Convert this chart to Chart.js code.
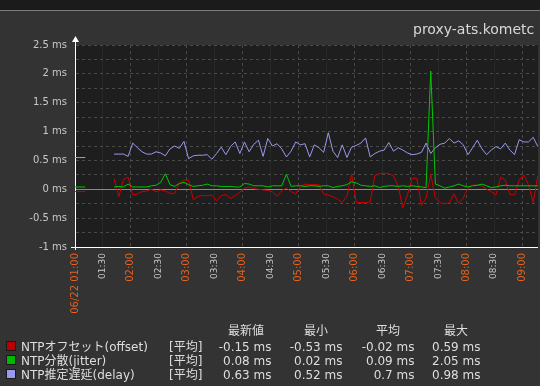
<!DOCTYPE html>
<html><head><meta charset="utf-8">
<script src="https://cdn.jsdelivr.net/npm/chart.js@4.4.0/dist/chart.umd.min.js"></script>
<style>
html,body{margin:0;padding:0;background:#333333;width:540px;height:386px;overflow:hidden;}
#topband{position:absolute;left:0;top:0;width:540px;height:10px;background:#1b1b1b;border-bottom:1px solid #7c7c7c;}
#wrap{position:absolute;left:0;top:0;width:540px;height:386px;}
.t{position:absolute;font-family:"DejaVu Sans","Noto Sans CJK JP",sans-serif;font-size:12px;line-height:14px;color:#dedede;white-space:nowrap;}
.r{text-align:right;width:80px;}
.c{text-align:center;width:60px;}
.sq{position:absolute;left:6px;width:8px;height:8px;border:1px solid #1a1a1a;}
#title{position:absolute;left:413px;top:22px;font-family:"DejaVu Sans",sans-serif;font-size:14px;line-height:14px;color:#d8d8d8;white-space:nowrap;}
</style>
</head><body>
<div id="topband"></div>
<div id="wrap"><canvas id="c" width="540" height="386"></canvas></div>
<div id="title">proxy-ats.kometc</div>
<div id="legend"></div>
<script>
// ---- data (minutes after 06/22 01:00) ----
const timeMinutes = [0,5,11,26,
 42,47,52,57,62,67,72,77,82,87,
 92,97,102,107,112,117,122,127,132,137,
 142,147,152,157,162,167,172,177,182,187,
 192,197,202,207,212,217,222,227,232,237,
 242,247,252,257,262,267,272,277,282,287,
 292,297,302,307,312,317,322,327,332,337,
 342,347,352,357,362,367,372,377,382,387,
 392,397,402,407,412,417,422,427,432,437,
 442,447,452,457,462,467,472,477,482,487,
 492,497];
const offsetMs = [-0.04,-0.04,-0.04,null,
 0.18,-0.13,0.17,0.21,-0.10,-0.08,-0.04,-0.03,0.00,-0.04,
 -0.01,-0.03,-0.07,-0.07,0.10,0.16,0.16,-0.18,-0.12,-0.11,
 -0.11,-0.10,-0.20,-0.11,-0.09,-0.16,-0.11,-0.05,0.02,0.04,
 0.01,0.00,-0.01,-0.02,-0.04,-0.12,-0.02,0.02,-0.04,-0.08,
 0.05,0.09,0.08,0.08,0.08,-0.08,-0.10,-0.13,-0.17,-0.23,
 -0.12,0.27,-0.23,-0.23,-0.23,-0.22,0.24,0.27,0.28,0.27,
 0.23,0.06,-0.32,-0.10,0.19,0.19,-0.28,-0.15,0.26,-0.15,
 -0.23,-0.25,-0.23,-0.08,-0.25,-0.15,0.02,0.07,0.07,0.06,
 0.00,-0.04,-0.10,0.21,0.16,-0.09,-0.10,0.16,0.25,0.08,
 -0.23,0.24];
const jitterMs = [0.04,0.04,0.04,null,
 0.04,0.05,0.04,0.09,0.04,0.04,0.04,0.04,0.06,0.07,
 0.12,0.27,0.08,0.05,0.10,0.12,0.08,0.05,0.06,0.07,
 0.09,0.06,0.06,0.05,0.05,0.05,0.04,0.04,0.10,0.09,
 0.06,0.06,0.06,0.04,0.06,0.06,0.06,0.26,0.05,0.06,
 0.06,0.05,0.06,0.06,0.05,0.06,0.06,0.03,0.05,0.06,
 0.08,0.13,0.11,0.07,0.06,0.05,0.06,0.03,0.05,0.06,
 0.06,0.05,0.06,0.05,0.06,0.05,0.04,0.03,2.05,0.09,
 0.06,0.02,0.04,0.06,0.09,0.06,0.04,0.06,0.07,0.09,
 0.06,0.03,0.04,0.06,0.07,0.06,0.06,0.06,0.06,0.06,
 0.06,0.06];
const delayMs = [0.55,0.55,0.55,null,
 0.61,0.61,0.61,0.57,0.80,0.72,0.65,0.61,0.61,0.65,
 0.63,0.58,0.70,0.75,0.71,0.83,0.53,0.58,0.59,0.59,
 0.60,0.52,0.62,0.73,0.60,0.74,0.82,0.62,0.82,0.65,
 0.78,0.85,0.57,0.88,0.75,0.79,0.70,0.56,0.66,0.82,
 0.77,0.79,0.56,0.77,0.72,0.64,0.98,0.66,0.55,0.77,
 0.55,0.73,0.76,0.80,0.89,0.56,0.62,0.66,0.68,0.81,
 0.66,0.72,0.68,0.63,0.60,0.61,0.64,0.80,0.62,0.72,
 0.78,0.80,0.88,0.80,0.84,0.77,0.60,0.72,0.85,0.70,
 0.60,0.68,0.74,0.70,0.80,0.68,0.60,0.86,0.82,0.82,
 0.90,0.74];
const xTickLabels = ['06/22 01:00','01:30','02:00','02:30','03:00','03:30','04:00','04:30',
 '05:00','05:30','06:00','06:30','07:00','07:30','08:00','08:30','09:00'];
const yTickLabels = ['-1 ms','-0.5 ms','0 ms','0.5 ms','1 ms','1.5 ms','2 ms','2.5 ms'];
const seriesNames = ['NTPオフセット(offset)','NTP分散(jitter)','NTP推定遅延(delay)'];
const seriesColors = ['#cc0000','#00c800','#9999ee'];
const legendColors = ['#b80000','#00b800','#9999ee'];
const statHeaders = ['最新値','最小','平均','最大'];
const statValues = [
 ['-0.15 ms','-0.53 ms','-0.02 ms','0.59 ms'],
 ['0.08 ms','0.02 ms','0.09 ms','2.05 ms'],
 ['0.63 ms','0.52 ms','0.7 ms','0.98 ms']
];

// ---- legend (HTML text) ----
const lg = document.getElementById('legend');
const colRight = [271.5,342.5,414.5,480.5];
const headCenter = [246,316,388,456];
const rowTop = [340,354,368];
let html = '';
statHeaders.forEach((h,i)=>{ html += `<div class="t c" style="left:${headCenter[i]-30}px;top:324px">${h}</div>`; });
seriesNames.forEach((n,r)=>{
  html += `<div class="sq" style="top:${rowTop[r]+1}px;background:${legendColors[r]}"></div>`;
  html += `<div class="t" style="left:21px;top:${rowTop[r]}px">${n}</div>`;
  html += `<div class="t" style="left:169px;top:${rowTop[r]}px">[平均]</div>`;
  statValues[r].forEach((v,i)=>{ html += `<div class="t r" style="left:${colRight[i]-80}px;top:${rowTop[r]}px">${v}</div>`; });
});
lg.innerHTML = html;

// ---- chart ----
const toPts = vals => timeMinutes.map((t,i)=>({x:t,y:vals[i]}));
const decor = {
  id:'decor',
  beforeDraw(chart){
    const {ctx, chartArea:a} = chart;
    ctx.save();
    ctx.fillStyle = '#1e1e1e';
    ctx.fillRect(a.left, a.top, a.right-a.left, a.bottom-a.top);
    ctx.restore();
  },
  afterDraw(chart){
    const {ctx, chartArea:a} = chart;
    const x = Math.round(a.left)+0.5;
    const yb = Math.round(a.bottom)+0.5;
    ctx.save();
    ctx.strokeStyle = '#ffffff'; ctx.fillStyle = '#ffffff'; ctx.lineWidth = 1;
    ctx.beginPath(); ctx.moveTo(x, a.top); ctx.lineTo(x, 41); ctx.stroke();
    ctx.beginPath(); ctx.moveTo(x-3.5, 42); ctx.lineTo(x+3.5, 42); ctx.lineTo(x, 36); ctx.closePath(); ctx.fill();
    ctx.beginPath(); ctx.moveTo(a.left-4, yb); ctx.lineTo(a.left, yb); ctx.stroke();
    ctx.beginPath(); ctx.moveTo(x, a.bottom); ctx.lineTo(x, a.bottom+3); ctx.stroke();
    ctx.restore();
  }
};
new Chart(document.getElementById('c'), {
  type:'line',
  data:{datasets:[
    {label:seriesNames[0], data:toPts(offsetMs), borderColor:seriesColors[0], borderWidth:1, pointRadius:0, tension:0, order:2},
    {label:seriesNames[1], data:toPts(jitterMs), borderColor:seriesColors[1], borderWidth:1, pointRadius:0, tension:0, order:0},
    {label:seriesNames[2], data:toPts(delayMs), borderColor:seriesColors[2], borderWidth:1, pointRadius:0, tension:0, order:1}
  ]},
  options:{
    responsive:false, animation:false, devicePixelRatio:1,
    layout:{padding:{top:45,left:0,right:0,bottom:0}},
    plugins:{legend:{display:false}, tooltip:{enabled:false}},
    scales:{
      x:{type:'linear', min:0, max:497.1,
        afterFit(s){ s.height = 139; },
        ticks:{stepSize:30, includeBounds:false, autoSkip:false, maxRotation:90, minRotation:90, padding:6,
          color: c => (c.tick && c.tick.value%60===0) ? '#e2621f' : '#c8c8c8',
          font: c => ({family:'DejaVu Sans', size:(c.tick && c.tick.value%60===0) ? 10 : 9}),
          callback: v => xTickLabels[Math.round(v/30)]},
        grid:{drawTicks:false, lineWidth:1,
          color: c => (c.tick && c.tick.value%60===0) ? '#4a4a4a' : '#282828'},
        border:{color:'#ffffff', width:1,
          dash: c => (c.tick && c.tick.value%60===0) ? [3,3] : []}
      },
      y:{min:-1, max:2.5,
        afterFit(s){ s.width = 75; },
        ticks:{stepSize:0.25, autoSkip:false, padding:8, color:'#c8c8c8',
          font:{family:'DejaVu Sans', size:10},
          callback: v => { const i = Math.round((v+1)*4); return i%2===0 ? yTickLabels[i/2] : ''; }},
        grid:{drawTicks:false, lineWidth:1,
          color: c => (c.tick && Math.abs(c.tick.value)<1e-9) ? '#8a8a8a' : '#4a4a4a'},
        border:{color:'#ffffff', width:1,
          dash: c => (c.tick && Math.abs(c.tick.value)<1e-9) ? [] : [3,3]}
      }
    }
  },
  plugins:[decor]
});
</script>
</body></html>
